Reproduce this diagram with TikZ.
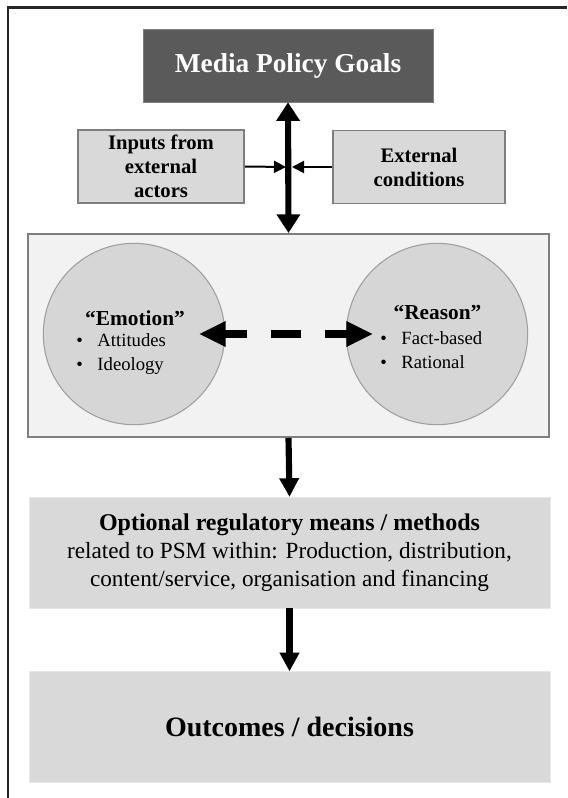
\documentclass[tikz,border=0pt]{standalone}
\usepackage{fontspec}
\setmainfont{Liberation Serif}
\usepackage{xcolor}
\usepackage{tikz}
\usetikzlibrary{arrows.meta}
\definecolor{goalgray}{HTML}{5A5A5A}
\definecolor{boxgray}{HTML}{D9D9D9}
\definecolor{panelgray}{HTML}{F2F2F2}
\definecolor{circgray}{HTML}{D6D6D6}
\definecolor{edgegray}{HTML}{7F7F7F}
\definecolor{framegray}{HTML}{262626}

\begin{document}
\begin{tikzpicture}[x=0.75pt,y=-0.75pt,
    goalbox/.style={draw=edgegray, fill=goalgray, text=white, inner sep=0pt,
      font=\fontsize{20.5}{24}\selectfont\bfseries, minimum width=217.5pt, minimum height=54.75pt},
    sidebox/.style={draw=edgegray, line width=1.2pt, fill=boxgray, inner sep=0pt, align=center,
      font=\fontsize{15.5}{18}\selectfont\bfseries, minimum height=54.5pt},
    wide/.style={draw=boxgray!60!white, fill=boxgray, inner sep=0pt, align=center,
      minimum width=390.75pt, minimum height=83pt},
    bubble/.style={circle, draw=gray!75, line width=0.8pt, fill=circgray, minimum size=136pt, inner sep=0pt},
    headtext/.style={inner sep=0pt, font=\fontsize{16}{19}\selectfont\bfseries},
    listtext/.style={inner sep=0pt, anchor=west, align=left, font=\fontsize{14}{18}\selectfont},
    bigarrow/.style={line width=4.6pt, -{Triangle[length=14pt,width=14pt]}},
    smallarrow/.style={line width=1.5pt, -{Triangle[length=9pt,width=9pt]}}]
  \useasboundingbox (0,0) rectangle (567,798);
  \draw[framegray, line width=1.6pt] (8,798) -- (8,7.5) -- (567,7.5);

  \node[goalbox] (goals) at (288,65.5) {Media Policy Goals};
  \node[sidebox, minimum width=124.5pt] (inputs) at (161,166.5) {Inputs from\\ external\\ actors};
  \node[sidebox, minimum width=129pt] (extcond) at (419,167) {External\\ conditions};
  \node[draw=edgegray, line width=1.5pt, fill=panelgray, minimum width=390.75pt, minimum height=152.25pt] (mind) at (288.5,335.5) {};

  \node[bubble] (emotion) at (134,334) {};
  \node[bubble] (reason) at (437,334) {};
  \node[headtext] (emohead) at (135,318) {“Emotion”};
  \node[listtext] (emolist) at (76,354) {\textbullet\hspace{11pt}Attitudes\\ \textbullet\hspace{11pt}Ideology};
  \node[headtext] (reahead) at (437.5,313) {“Reason”};
  \node[listtext] (realist) at (380,350) {\textbullet\hspace{11pt}Fact-based\\ \textbullet\hspace{11pt}Rational};

  \node[wide, font=\fontsize{17.4}{21}\selectfont] (options) at (289.5,552.5)
    {{\fontsize{18}{21}\selectfont\bfseries Optional regulatory means / methods}\\
     related to PSM within: Production, distribution,\\ content/service, organisation and financing};
  \node[wide, font=\fontsize{21}{25}\selectfont\bfseries] (outcomes) at (289.5,727) {Outcomes / decisions};

  \coordinate (hubleft) at (286,167);
  \coordinate (hubright) at (292,167);

  \draw[line width=4.6pt, {Triangle[length=14pt,width=17pt]}-{Triangle[length=14pt,width=17pt]}] (goals.south) -- (mind.north);
  \draw[smallarrow] (inputs.east) -- (hubleft);
  \draw[smallarrow] (extcond.west) -- (hubright);
  \draw[line width=5.5pt, dash pattern=on 17pt off 18pt on 22.5pt off 18pt on 30pt,
    {Triangle[length=20pt,width=18pt]}-{Triangle[length=20pt,width=18pt]},
    shorten <=48.75pt, shorten >=48pt] (emotion.center) -- (reason.center);
  \foreach \a/\b in {mind/options,options/outcomes}
    \draw[bigarrow] (\a.south) -- (\b.north);
\end{tikzpicture}
\end{document}
